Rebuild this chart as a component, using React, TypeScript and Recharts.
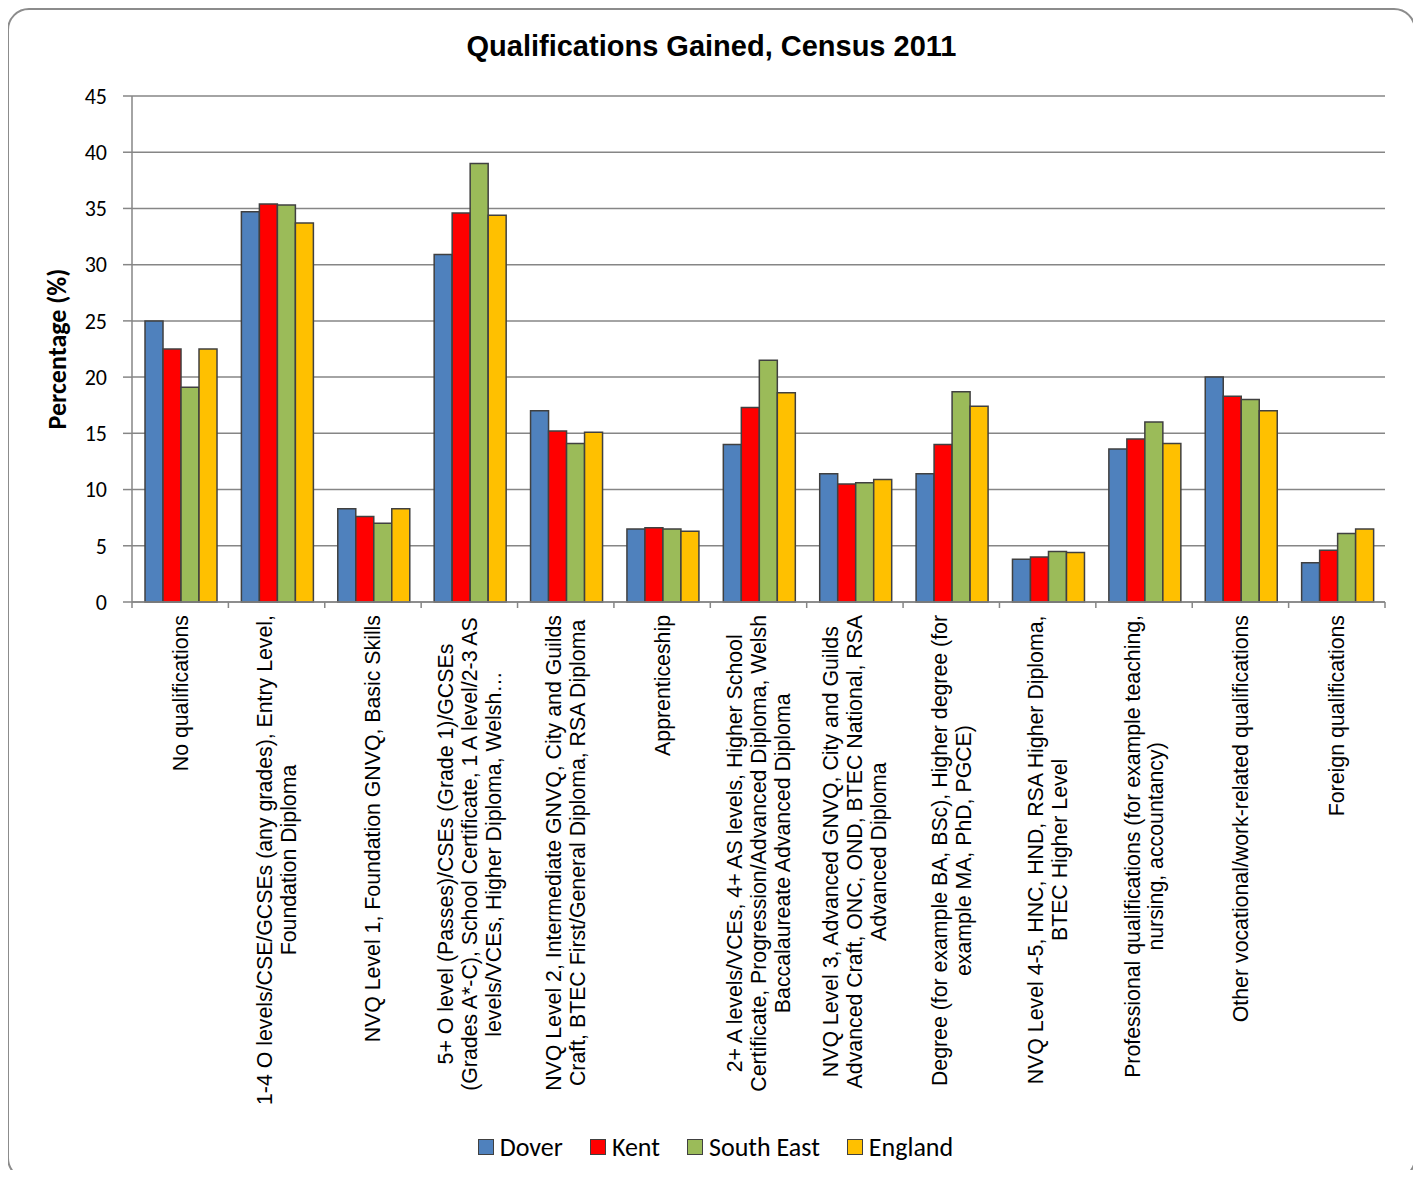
import { Bar, BarChart, CartesianGrid, Legend, XAxis, YAxis } from "recharts";

const categories = [
  "No qualifications",
  "1-4 O levels/CSE/GCSEs (any grades), Entry Level,\nFoundation Diploma",
  "NVQ Level 1, Foundation GNVQ, Basic Skills",
  "5+ O level (Passes)/CSEs (Grade 1)/GCSEs\n(Grades A*-C), School Certificate, 1 A level/2-3 AS\nlevels/VCEs, Higher Diploma, Welsh…",
  "NVQ Level 2, Intermediate GNVQ, City and Guilds\nCraft, BTEC First/General Diploma, RSA Diploma",
  "Apprenticeship",
  "2+ A levels/VCEs, 4+ AS levels, Higher School\nCertificate, Progression/Advanced Diploma, Welsh\nBaccalaureate Advanced Diploma",
  "NVQ Level 3, Advanced GNVQ, City and Guilds\nAdvanced Craft, ONC, OND, BTEC National, RSA\nAdvanced Diploma",
  "Degree (for example BA, BSc), Higher degree (for\nexample MA, PhD, PGCE)",
  "NVQ Level 4-5, HNC, HND, RSA Higher Diploma,\nBTEC Higher Level",
  "Professional qualifications (for example teaching,\nnursing, accountancy)",
  "Other vocational/work-related qualifications",
  "Foreign qualifications",
];

const dover = [25.0, 34.7, 8.3, 30.9, 17.0, 6.5, 14.0, 11.4, 11.4, 3.8, 13.6, 20.0, 3.5];
const kent = [22.5, 35.4, 7.6, 34.6, 15.2, 6.6, 17.3, 10.5, 14.0, 4.0, 14.5, 18.3, 4.6];
const southEast = [19.1, 35.3, 7.0, 39.0, 14.1, 6.5, 21.5, 10.6, 18.7, 4.5, 16.0, 18.0, 6.1];
const england = [22.5, 33.7, 8.3, 34.4, 15.1, 6.3, 18.6, 10.9, 17.4, 4.4, 14.1, 17.0, 6.5];

const seriesNames = ["Dover", "Kent", "South East", "England"];
const seriesColors = ["#4F81BD", "#FF0000", "#9BBB59", "#FFC000"];

const yTicks = [0, 5, 10, 15, 20, 25, 30, 35, 40, 45];

const data = categories.map((name, i) => ({
  name,
  Dover: dover[i],
  Kent: kent[i],
  "South East": southEast[i],
  England: england[i],
}));

// keep the page from scrolling so the frame isn't clipped
document.documentElement.style.overflow = "hidden";
document.body.style.overflow = "hidden";

const W = 1405;
const H = 1168;
const MARGIN = { top: 86, right: 29, left: 0, bottom: 16 };
const Y_AXIS_W = 123;
const BAND = (W - MARGIN.left - MARGIN.right - Y_AXIS_W) / categories.length;
const AXIS_GRAY = "#868686";
const ARIAL = "Arial, 'Liberation Sans', sans-serif";
const CALIBRI = "Carlito, Lato, 'Open Sans', sans-serif";
const TICK_FONT = 21.3;
const LINE_H = 24;

let ctx: CanvasRenderingContext2D | null = null;
function measure(text: string) {
  if (!ctx) {
    ctx = document.createElement("canvas").getContext("2d");
  }
  if (!ctx) return text.length * TICK_FONT * 0.5;
  ctx.font = `${TICK_FONT}px Arial, "Liberation Sans", sans-serif`;
  return ctx.measureText(text).width;
}

function CategoryTick(props: any) {
  const { x, y, payload, index } = props;
  const lines = String(payload.value).split("\n");
  const maxW = Math.max(...lines.map(measure));
  const n = lines.length;
  return (
    <g>
      <line x1={x - BAND / 2} x2={x - BAND / 2} y1={y} y2={y + 6} stroke={AXIS_GRAY} strokeWidth={1.5} />
      {index === categories.length - 1 && (
        <line x1={x + BAND / 2} x2={x + BAND / 2} y1={y} y2={y + 6} stroke={AXIS_GRAY} strokeWidth={1.5} />
      )}
      <g transform={`translate(${x},${y + 13}) rotate(-90)`}>
        {lines.map((l, i) => (
          <text
            key={i}
            x={-maxW / 2}
            y={(i - (n - 1) / 2) * LINE_H}
            dy="0.35em"
            textAnchor="middle"
            fontFamily={ARIAL}
            fontSize={TICK_FONT}
            fill="#000"
          >
            {l}
          </text>
        ))}
      </g>
    </g>
  );
}

function YLabel(props: any) {
  const { viewBox } = props;
  const cx = viewBox.x + 48;
  const cy = viewBox.y + viewBox.height / 2;
  return (
    <text
      x={cx}
      y={cy}
      transform={`rotate(-90, ${cx}, ${cy})`}
      textAnchor="middle"
      dominantBaseline="central"
      fontFamily={CALIBRI}
      fontWeight="bold"
      fontSize={26}
      fill="#000"
    >
      Percentage (%)
    </text>
  );
}

function LegendContent() {
  return (
    <div
      style={{
        display: "flex",
        justifyContent: "center",
        alignItems: "center",
        height: 30,
        gap: 27,
        paddingLeft: 8,
        fontFamily: CALIBRI,
        fontSize: 26,
        color: "#000",
      }}
    >
      {seriesNames.map((name, i) => (
        <span key={name} style={{ display: "flex", alignItems: "center" }}>
          <span
            style={{
              width: 16,
              height: 16,
              background: seriesColors[i],
              border: "1.5px solid #404040",
              marginRight: 6,
              boxSizing: "border-box",
              display: "inline-block",
            }}
          />
          {name}
        </span>
      ))}
    </div>
  );
}

export default function App() {
  return (
    <div
      style={{
        position: "relative",
        width: 1409,
        height: 1172,
        marginLeft: -1,
        marginBottom: -10,
        border: "2px solid #8c8c8c",
        borderRadius: 22,
        boxSizing: "border-box",
        background: "#fff",
      }}
    >
      <div
        style={{
          position: "absolute",
          top: 19,
          left: 0,
          width: "100%",
          textAlign: "center",
          fontFamily: ARIAL,
          fontWeight: "bold",
          fontSize: 29,
          lineHeight: "34px",
          color: "#000",
        }}
      >
        Qualifications Gained, Census 2011
      </div>
      <BarChart
        width={W}
        height={H}
        data={data}
        margin={MARGIN}
        barCategoryGap="13.5%"
        barGap={0}
      >
        <CartesianGrid vertical={false} stroke={AXIS_GRAY} strokeWidth={1.5} />
        <XAxis
          dataKey="name"
          interval={0}
          height={530}
          tickSize={0}
          tickMargin={0}
          tickLine={false}
          axisLine={{ stroke: AXIS_GRAY, strokeWidth: 1.5 }}
          tick={<CategoryTick />}
        />
        <YAxis
          width={Y_AXIS_W}
          domain={[0, 45]}
          ticks={yTicks}
          interval={0}
          tickSize={9}
          tickMargin={16}
          axisLine={{ stroke: AXIS_GRAY, strokeWidth: 1.5 }}
          tickLine={{ stroke: AXIS_GRAY, strokeWidth: 1.5 }}
          tick={{ fontFamily: CALIBRI, fontSize: 22, fill: "#000" }}
          label={<YLabel />}
        />
        <Legend
          verticalAlign="bottom"
          height={30}
          content={<LegendContent />}
          wrapperStyle={{ left: 0, width: W }}
        />
        {seriesNames.map((name, i) => (
          <Bar
            key={name}
            dataKey={name}
            fill={seriesColors[i]}
            stroke="#404040"
            strokeWidth={1.5}
            isAnimationActive={false}
          />
        ))}
      </BarChart>
    </div>
  );
}
